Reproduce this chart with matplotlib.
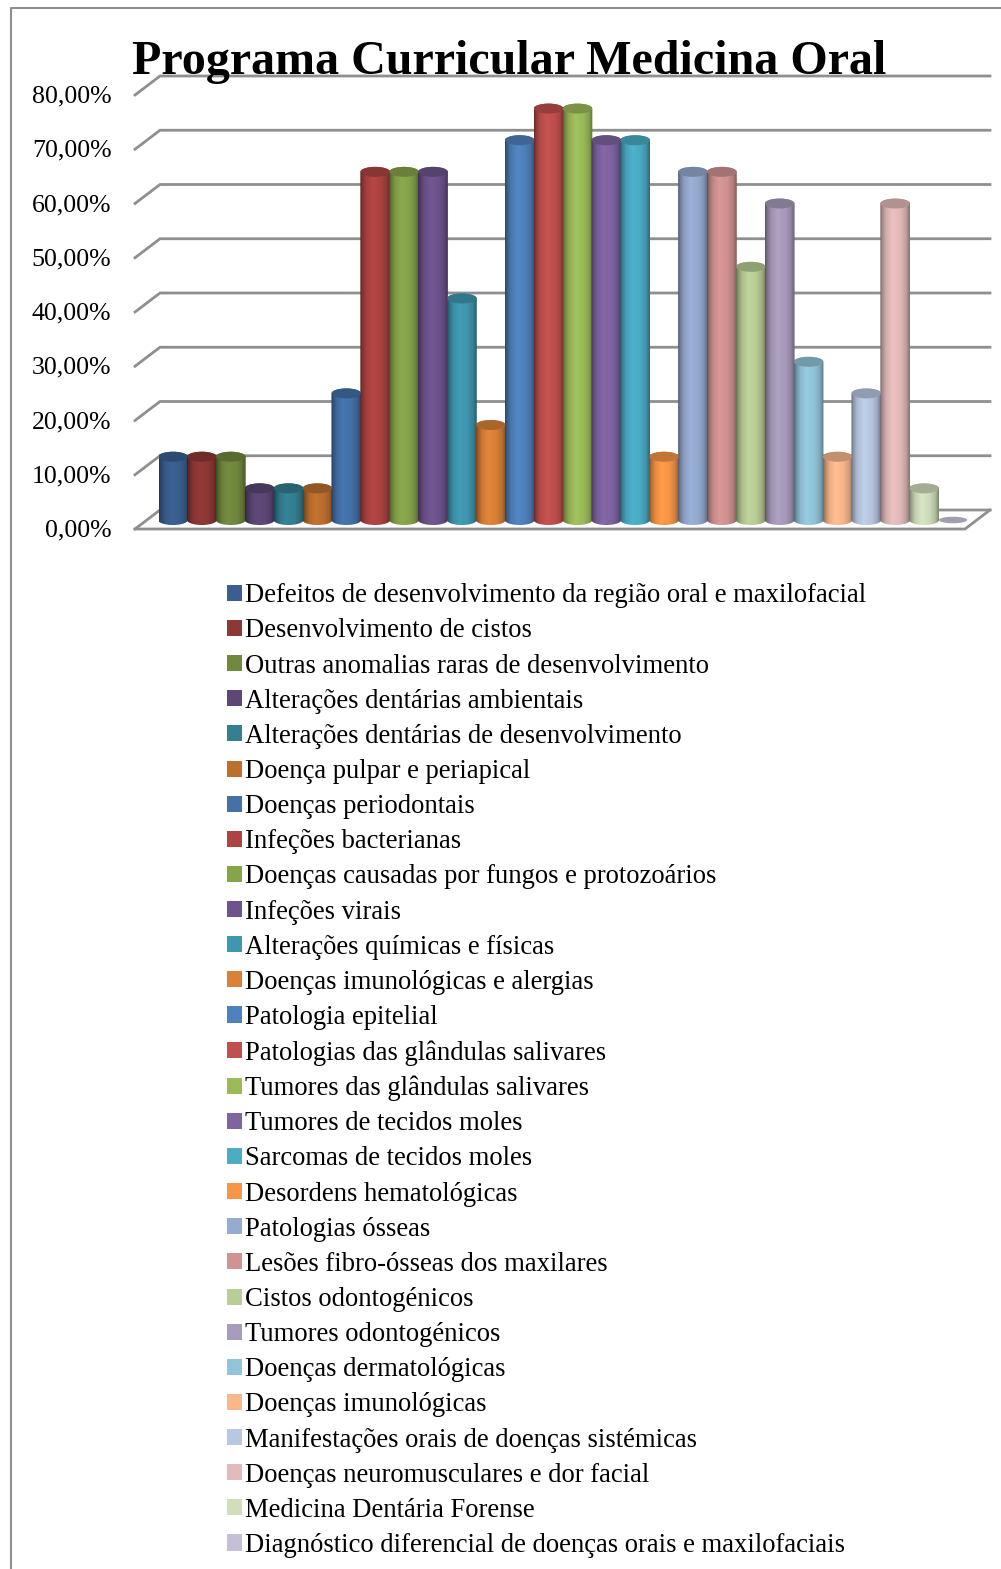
# -*- coding: utf-8 -*-
"""
Programa Curricular Medicina Oral - cylinder chart with a long legend
"""

import numpy as np
import matplotlib
matplotlib.use('Agg')
import matplotlib.pyplot as plt
from matplotlib.patches import Ellipse, PathPatch, Patch
from matplotlib.path import Path
from matplotlib.colors import to_rgb
from matplotlib.transforms import ScaledTranslation

W, H = 1001, 1569

temas = [
    'Defeitos de desenvolvimento da região oral e maxilofacial',
    'Desenvolvimento de cistos',
    'Outras anomalias raras de desenvolvimento',
    'Alterações dentárias ambientais',
    'Alterações dentárias de desenvolvimento',
    'Doença pulpar e periapical',
    'Doenças periodontais',
    'Infeções bacterianas',
    'Doenças causadas por fungos e protozoários',
    'Infeções virais',
    'Alterações químicas e físicas',
    'Doenças imunológicas e alergias',
    'Patologia epitelial',
    'Patologias das glândulas salivares',
    'Tumores das glândulas salivares',
    'Tumores de tecidos moles',
    'Sarcomas de tecidos moles',
    'Desordens hematológicas',
    'Patologias ósseas',
    'Lesões fibro-ósseas dos maxilares',
    'Cistos odontogénicos',
    'Tumores odontogénicos',
    'Doenças dermatológicas',
    'Doenças imunológicas',
    'Manifestações orais de doenças sistémicas',
    'Doenças neuromusculares e dor facial',
    'Medicina Dentária Forense',
    'Diagnóstico diferencial de doenças orais e maxilofaciais',
]

percentagens = [
    11.76, 11.76, 11.76, 5.88, 5.88, 5.88, 23.53, 64.71, 64.71, 64.71,
    41.18, 17.65, 70.59, 76.47, 76.47, 70.59, 70.59, 11.76, 64.71, 64.71,
    47.06, 58.82, 29.41, 11.76, 23.53, 58.82, 5.88, 0.0,
]

cores = [
    '#3A5F8F', '#8E3835', '#71893F', '#5C4776', '#357F92', '#BD6F2E',
    '#4471A8', '#AE4441', '#86A44A', '#6E548D', '#3F97AF', '#DA8137',
    '#4F81BD', '#C0504D', '#9BBB59', '#8064A2', '#4BACC6', '#F79646',
    '#95ABD0', '#D19392', '#B9CD96', '#A99BBD', '#92C5D9', '#FAB78C',
    '#B9C8E2', '#E2BBBA', '#D0DEBC', '#C5BFD7',
]

ticks = [0, 10, 20, 30, 40, 50, 60, 70, 80]
tick_labels = ['%d,00%%' % t for t in ticks]

plt.rcParams['font.family'] = ['Liberation Serif', 'DejaVu Serif']


def box(left, top, right, bottom):
    # pixel box to figure fractions
    return [left / W, 1 - bottom / H, (right - left) / W, (bottom - top) / H]


def shaded(cor, fator):
    return tuple(min(1, c * fator) for c in to_rgb(cor))


def cylinder(ax, x, valor, cor, width=1.03, ry=0.93):
    rx = width / 2
    if valor == 0:
        ax.add_patch(Ellipse((x, 0), width * 0.95, ry * 1.3, fc=shaded(cor, 0.82), ec='none', zorder=3))
        return
    t = np.linspace(0, np.pi, 30)
    bottom = np.column_stack([x - rx * np.cos(t), -ry * np.sin(t)])
    top = np.column_stack([x + rx * np.cos(t), valor + ry * np.sin(t)])
    verts = np.vstack([bottom, top, bottom[:1]])
    codes = [Path.MOVETO] + [Path.LINETO] * (len(verts) - 2) + [Path.CLOSEPOLY]
    body = PathPatch(Path(verts, codes), fc='none', ec='none', zorder=3)
    ax.add_patch(body)
    # left and right edges go dark, like light falling on a round surface
    u = np.array([0.0, 0.06, 0.2, 0.42, 0.7, 0.88, 1.0])
    f = np.array([0.55, 0.72, 0.93, 1.04, 0.98, 0.85, 0.62])
    prof = np.array([shaded(cor, v) for v in np.interp(np.linspace(0, 1, 40), u, f)])
    im = ax.imshow(prof[None, :, :], extent=[x - rx, x + rx, -ry, valor + ry], aspect='auto',
                   interpolation='bilinear', zorder=3)
    im.set_clip_path(body)
    ax.add_patch(Ellipse((x, valor), width * 0.98, ry * 2, fc=shaded(cor, 0.78), ec='none', zorder=3.1))


fig = plt.figure(figsize=(W / 100, H / 100), dpi=100)

# outer chart frame, cut off by the image at the right and bottom
fig.add_artist(plt.Line2D([11 / W, 11 / W, 1], [0, 1 - 8 / H, 1 - 8 / H], color='#8f8f8f', lw=1.5))

# walls and floor; ticks belong to the front edge
wall = fig.add_axes(box(135, 95, 965, 529))
wall.set_xlim(0, 830)
wall.set_ylim(0, 80)
wall.patch.set_alpha(0)
for s in wall.spines.values():
    s.set_visible(False)
depth_x, depth_y = 25, 19 / 5.425
for t in ticks:
    wall.plot([0, depth_x, 830 + depth_x], [t, t + depth_y, t + depth_y], color='#8f8f8f', lw=2,
              clip_on=False, zorder=1, solid_joinstyle='miter')
wall.plot([0, 830, 830 + depth_x], [0, 0, depth_y], color='#8f8f8f', lw=2, clip_on=False, zorder=1,
          solid_joinstyle='miter')
wall.set_xticks([])
wall.set_yticks(ticks)
wall.set_yticklabels(tick_labels, fontsize=18.6, color='black')
wall.tick_params(axis='y', length=0, pad=17)
for lab in wall.get_yticklabels():
    lab.set_transform(lab.get_transform() + ScaledTranslation(0, 1 / 100, fig.dpi_scale_trans))

# cylinders; y starts a little under zero so the round bottoms are not cut
ax = fig.add_axes(box(173 - 14.45, 520 - 5.38 * 80, 953 + 14.45, 520 + 5.38 * 2))
ax.patch.set_alpha(0)
for i in range(len(temas)):
    cylinder(ax, i, percentagens[i], cores[i])
ax.set_xlim(-0.5, 27.5)
ax.set_ylim(-2, 80)
ax.axis('off')

fig.text(132 / W, 1 - 73.5 / H, 'Programa Curricular Medicina Oral', fontsize=34.6, fontweight='bold',
         ha='left', va='baseline', zorder=5)

handles = [Patch(fc=c, ec='none') for c in cores]
fig.legend(handles, temas, loc='upper left', bbox_to_anchor=(222 / W, 1 - 578 / H), frameon=False,
           fontsize=19.2, handlelength=0.55, handleheight=0.55, handletextpad=0.12, labelspacing=0.38,
           borderpad=0.2, borderaxespad=0)

fig.savefig('out.png', dpi=100)
